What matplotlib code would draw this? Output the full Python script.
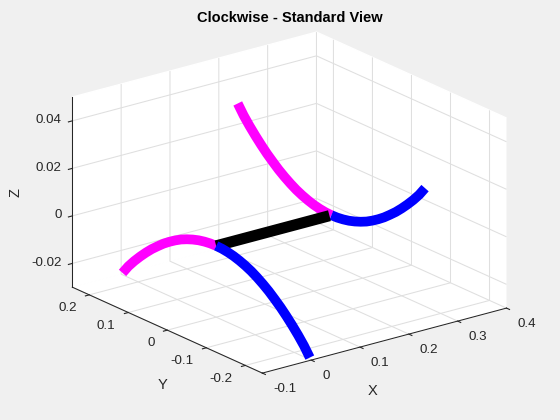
import matplotlib
matplotlib.use('Agg')
import matplotlib.pyplot as plt

plt.rcParams['font.family'] = ['Liberation Sans', 'DejaVu Sans']
plt.rcParams['axes.unicode_minus'] = False

# values
arm_y_pos = [0, 0.015, 0.03, 0.045, 0.06, 0.075, 0.09, 0.105, 0.12, 0.135, 0.15, 0.165, 0.18, 0.195, 0.21, 0.225, 0.24]
arm_y_neg = [0, -0.015, -0.03, -0.045, -0.06, -0.075, -0.09, -0.105, -0.12, -0.135, -0.15, -0.165, -0.18, -0.195, -0.21, -0.225, -0.24]
arm_z_up = [0, 0.0001, 0.00045, 0.001, 0.0018, 0.0028, 0.004, 0.0055, 0.0072, 0.0091, 0.0113, 0.0136, 0.0162, 0.019, 0.022, 0.0253, 0.0292]
arm_z_down = [0, -0.0001, -0.00045, -0.001, -0.0018, -0.0028, -0.004, -0.0055, -0.0072, -0.0091, -0.0113, -0.0136, -0.0162, -0.019, -0.022, -0.0253, -0.0292]
arm_x_front = 0
arm_x_rear = 0.236
rod_x = [0, 0.232]
rod_y = [0, 0]
rod_z = [0, 0]

xticks = [-0.1, 0, 0.1, 0.2, 0.3, 0.4]
yticks = [-0.2, -0.1, 0, 0.1, 0.2]
zticks = [-0.02, 0, 0.02, 0.04]
xtick_labels = ['-0.1', '0', '0.1', '0.2', '0.3', '0.4']
ytick_labels = ['-0.2', '-0.1', '0', '0.1', '0.2']
ztick_labels = ['-0.02', '0', '0.02', '0.04']

BG = '#f0f0f0'
DARK = '#262626'
GRID = '#dfdfdf'

fig = plt.figure(figsize=(5.6, 4.2), dpi=100, facecolor=BG)
size = 400
ax = fig.add_axes([(284 - size / 2) / 560, (212 - size / 2) / 420, size / 560, size / 420], projection='3d')
ax.computed_zorder = False
ax.set_proj_type('ortho')
ax.view_init(elev=20.3, azim=-127.5)
ax.set_box_aspect((307.6, 312, 202.6), zoom=1.172)
ax.patch.set_alpha(0)

style = dict(lw=7, solid_capstyle='butt', solid_joinstyle='round')
ax.plot([arm_x_rear] * len(arm_y_pos), arm_y_pos, arm_z_up, color='#ff00ff', zorder=2, **style)
ax.plot([arm_x_rear] * len(arm_y_neg), arm_y_neg, arm_z_up, color='#0000ff', zorder=3, **style)
ax.plot([arm_x_front] * len(arm_y_pos), arm_y_pos, arm_z_down, color='#ff00ff', zorder=2, **style)
ax.plot(rod_x, rod_y, rod_z, color='black', lw=8, solid_capstyle='butt', zorder=4)
ax.plot([arm_x_front] * len(arm_y_neg), arm_y_neg, arm_z_down, color='#0000ff', zorder=5, **style)

ax.set_xlim(-0.1, 0.4, view_margin=0)
ax.set_ylim(-0.2435, 0.2435, view_margin=0)
ax.set_zlim(-0.03, 0.05, view_margin=0)

ax.set_xticks(xticks)
ax.set_yticks(yticks)
ax.set_zticks(zticks)
ax.set_xticklabels(xtick_labels, ha='left', va='center')
ax.set_yticklabels(ytick_labels, ha='right', va='center')
ax.set_zticklabels(ztick_labels, ha='right', va='center')

for axis in (ax.xaxis, ax.yaxis, ax.zaxis):
    axis.set_pane_color('white')
    axis.pane.set_edgecolor('white')
    axis.line.set_color(DARK)
    axis.line.set_linewidth(0.75)
    axis._axinfo['grid'].update(color=GRID, linewidth=0.75)
    axis._axinfo['tick']['inward_factor'] = 0.2
    axis._axinfo['tick']['outward_factor'] = 0
    axis.set_tick_params(labelsize=9.6, labelcolor=DARK, color=DARK, width=0.75)

ax.xaxis.set_tick_params(pad=0.6)
ax.yaxis.set_tick_params(pad=-0.2)
ax.zaxis.set_tick_params(pad=-4.3)

fig.text(373 / 560, 1 - 391 / 420, 'X', fontsize=10.5, color=DARK, ha='center', va='center')
fig.text(163 / 560, 1 - 385 / 420, 'Y', fontsize=10.5, color=DARK, ha='center', va='center')
fig.text(16 / 560, 1 - 193 / 420, 'Z', fontsize=10.5, color=DARK, ha='center', va='center', rotation=90)
fig.text(290 / 560, 1 - 18 / 420, 'Clockwise - Standard View', fontsize=10.5, fontweight='bold',
         color='black', ha='center', va='center')

fig.savefig('out.png', dpi=100, facecolor=BG)
